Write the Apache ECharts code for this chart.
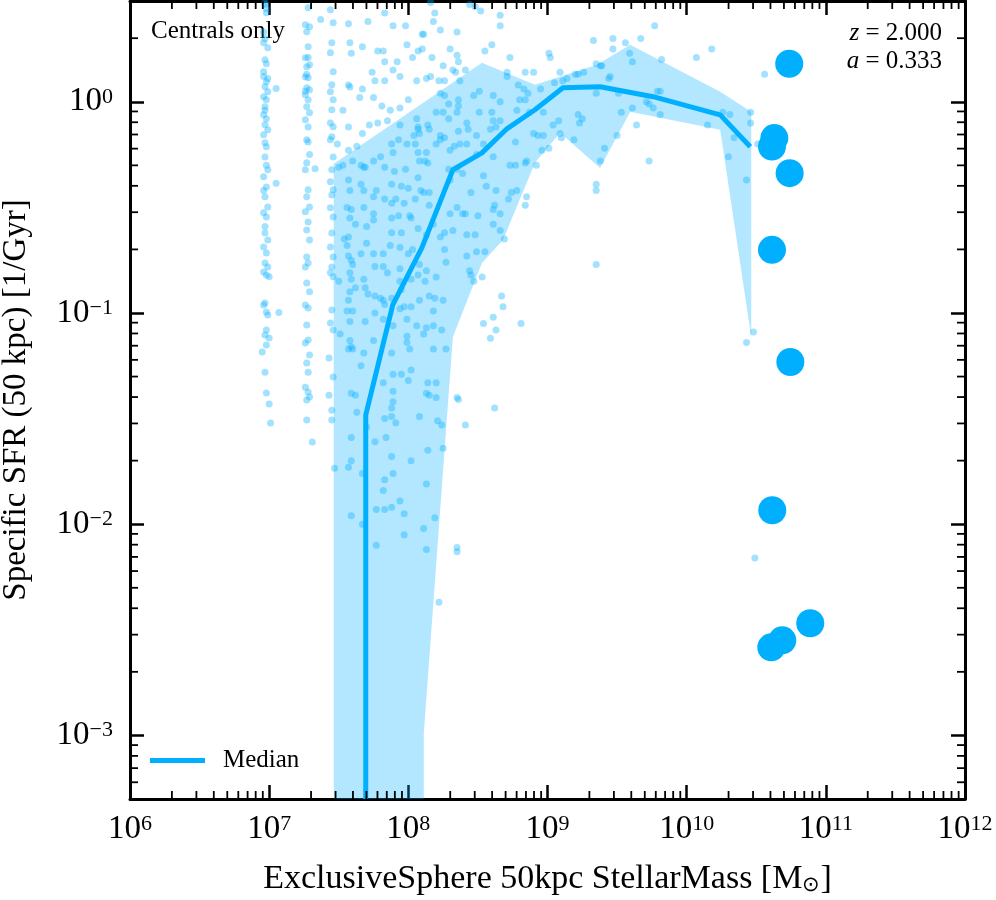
<!DOCTYPE html>
<html><head><meta charset="utf-8">
<script src="https://cdn.jsdelivr.net/npm/echarts@6/dist/echarts.min.js"></script>
<style>html,body{margin:0;padding:0;background:#fff}#c{width:996px;height:900px}</style>
</head><body><div id="c"></div><script>
// ---- values, stored as [log10(M*/Msun), log10(sSFR / Gyr^-1)] ----
const massRange = [1e6, 1e12];
const ssfrRange = [5e-4, 3.0];
const minorMultipliers = [2,3,4,5,6,7,8,9];

const columnA = [[6.97,0.469],[6.98,0.422],[6.96,0.280],[6.99,0.256],[6.97,0.199],[6.96,0.142],[6.98,0.095],[6.97,0.071],[6.99,0.047],[6.96,0.024],[6.98,0.009],[6.97,-0.024],[6.96,-0.062],[6.97,-0.109],[6.99,-0.133],[6.96,-0.156],[6.97,-0.194],[6.98,-0.213],[6.97,-0.261],[6.99,-0.322],[6.96,-0.355],[6.98,-0.403],[6.97,-0.450],[6.99,-0.498],[6.96,-0.526],[6.98,-0.545],[6.97,-0.621],[6.99,-0.654],[6.96,-0.687],[6.98,-0.716],[6.97,-0.763],[6.99,-0.782],[6.96,-0.806],[6.98,-0.820],[7.00,-0.829],[6.97,-0.953],[6.96,-0.962],[6.98,-0.995],[6.99,-1.009],[6.98,-1.081],[6.97,-1.104],[7.00,-1.118],[6.98,-1.152],[6.95,-1.185],[6.97,-1.280],[6.98,-1.379],[7.00,-1.431],[7.01,-1.521],[7.05,0.063],[7.05,-0.386],[7.07,-0.998],[6.96,0.33],[6.97,0.30],[6.98,0.18],[6.96,0.12],[6.99,0.11],[6.97,-0.04],[6.98,-0.08],[6.97,0.46],[6.98,0.44],[6.97,-0.59],[6.98,-0.30],[6.96,-0.42]];
const columnB = [[7.27,0.483],[7.28,0.445],[7.26,0.365],[7.29,0.355],[7.27,0.332],[7.28,0.261],[7.26,0.209],[7.29,0.175],[7.27,0.166],[7.26,0.118],[7.28,0.114],[7.27,0.066],[7.29,0.057],[7.26,0.033],[7.28,0.009],[7.27,-0.024],[7.29,-0.052],[7.26,-0.085],[7.27,-0.180],[7.28,-0.190],[7.27,-0.289],[7.26,-0.322],[7.28,-0.417],[7.27,-0.450],[7.29,-0.498],[7.26,-0.521],[7.28,-0.569],[7.27,-0.607],[7.29,-0.654],[7.27,-0.735],[7.26,-0.782],[7.28,-0.763],[7.27,-0.858],[7.29,-0.900],[7.26,-0.962],[7.28,-0.976],[7.27,-1.057],[7.28,-1.128],[7.26,-1.142],[7.29,-1.199],[7.27,-1.237],[7.28,-1.280],[7.26,-1.351],[7.28,-1.374],[7.29,-1.398],[7.27,-1.412],[7.27,-1.507],[7.31,-1.611],[7.37,0.389],[7.33,-0.317],[7.28,0.21],[7.27,0.13],[7.26,0.05],[7.28,-0.12],[7.29,-0.25]];
const columnC = [[7.45,0.483],[7.44,0.436],[7.46,0.374],[7.45,0.280],[7.44,0.232],[7.46,0.142],[7.45,0.081],[7.44,0.047],[7.46,0.009],[7.45,-0.038],[7.44,-0.100],[7.46,-0.118],[7.45,-0.166],[7.44,-0.180],[7.46,-0.261],[7.45,-0.322],[7.44,-0.379],[7.46,-0.417],[7.45,-0.441],[7.44,-0.502],[7.46,-0.545],[7.45,-0.621],[7.44,-0.687],[7.46,-0.735],[7.45,-0.782],[7.44,-0.810],[7.46,-0.829],[7.45,-0.986],[7.44,-1.047],[7.46,-1.081],[7.43,-1.213],[7.46,-1.303],[7.43,-1.389],[7.45,-1.460],[7.45,-1.507],[7.47,-1.735]];
const fieldTopLeft = [[7.57,0.37],[7.71,0.38],[7.83,0.42],[7.89,0.36],[7.98,0.36],[7.58,0.28],[7.59,0.23],[7.78,0.24],[7.82,0.24],[7.67,0.26],[7.99,0.27],[8.10,0.32],[8.07,0.24],[8.03,0.21],[7.83,0.19],[7.92,0.19],[7.74,0.14],[7.89,0.15],[7.94,0.12],[8.06,0.10],[7.76,0.10],[7.83,0.10],[7.67,0.06],[7.57,0.08],[7.58,0.07],[7.75,0.02],[7.81,-0.02],[7.87,-0.04],[7.94,-0.03],[8.00,0.01],[7.78,-0.10],[7.72,-0.11],[7.67,-0.15],[7.63,-0.21],[7.57,-0.23],[7.49,-0.20],[7.57,-0.12],[7.53,-0.04],[7.65,0.02],[7.85,-0.09],[7.94,-0.11],[8.06,-0.08],[8.07,-0.12]];
const fieldUpperBand = [[8.23,0.04],[8.26,0.03],[8.29,-0.01],[8.36,0.01],[8.36,-0.02],[8.47,0.03],[8.51,0.05],[8.61,0.03],[8.20,-0.05],[8.25,-0.05],[8.29,-0.08],[8.35,-0.05],[8.42,-0.10],[8.51,-0.05],[8.60,-0.05],[8.61,-0.09],[8.14,-0.11],[8.08,-0.15],[8.07,-0.13],[8.15,-0.13],[8.23,-0.16],[8.26,-0.17],[8.36,-0.14],[8.43,-0.13],[8.49,-0.16],[8.59,-0.13],[8.63,-0.12],
[7.75,-0.28],[7.80,-0.26],[7.88,-0.20],[7.93,-0.18],[7.89,-0.24],[7.99,-0.20],[8.04,-0.16],[8.05,-0.20],[8.07,-0.24],[8.13,-0.24],[8.12,-0.28],[8.14,-0.29],[8.08,-0.28],[7.98,-0.32],[7.90,-0.33],[7.83,-0.31],[7.68,-0.31],[7.66,-0.30],[7.69,-0.31],[7.60,-0.28],[7.53,-0.30],[7.50,-0.31],
[8.20,-0.20],[8.23,-0.18],[8.30,-0.23],[8.33,-0.21],[8.37,-0.20],[8.42,-0.20],[8.49,-0.25],[8.54,-0.20],[8.61,-0.26],[8.35,-0.32],[8.29,-0.32],
[7.57,-0.37],[7.58,-0.42],[7.66,-0.39],[7.68,-0.42],[7.77,-0.42],[7.75,-0.45],[7.88,-0.39],[7.95,-0.40],[8.00,-0.41],[8.07,-0.36],[8.09,-0.42],[8.15,-0.43],[8.30,-0.37],[8.39,-0.34],[8.45,-0.43],[8.54,-0.35],[8.56,-0.40],[8.63,-0.42],
[7.56,-0.50],[7.59,-0.51],[7.68,-0.50],[7.75,-0.53],[7.83,-0.46],[7.88,-0.48],[7.91,-0.46],[7.97,-0.48],[8.05,-0.46],[8.11,-0.43],[8.15,-0.49],[8.35,-0.50],[8.41,-0.53],[8.61,-0.51],[8.62,-0.49],
[7.58,-0.55],[7.62,-0.58],[7.70,-0.59],[7.75,-0.56],[7.88,-0.55],[7.93,-0.54],[8.01,-0.54],[8.02,-0.55],[8.18,-0.58],[8.30,-0.53],[8.39,-0.53],[8.50,-0.54],
[7.54,-0.65],[7.57,-0.64],[7.70,-0.67],[7.88,-0.62],[7.95,-0.62],[8.07,-0.60],[8.13,-0.63],[8.23,-0.64],[8.26,-0.62],[8.32,-0.61],[8.42,-0.63],[8.48,-0.63],[8.61,-0.58],
[7.56,-0.68],[7.66,-0.72],[7.75,-0.72],[7.82,-0.72],[7.87,-0.68],[7.94,-0.69],[8.00,-0.72],[8.03,-0.70],[8.26,-0.70],[8.42,-0.73],[8.49,-0.71],[8.55,-0.71]];
const fieldLowerBand = [[7.57,-0.73],[7.59,-0.75],[7.60,-0.77],[7.76,-0.78],[7.82,-0.78],[7.85,-0.81],[7.94,-0.79],[8.08,-0.77],[8.13,-0.80],[8.20,-0.83],[8.27,-0.76],[8.44,-0.80],[8.45,-0.82],[8.53,-0.83],
[7.50,-0.85],[7.58,-0.81],[7.59,-0.84],[7.62,-0.88],[7.68,-0.84],[7.69,-0.88],[7.58,-0.90],[7.71,-0.91],[7.76,-0.92],[7.80,-0.93],[7.82,-0.94],[7.83,-0.96],[7.94,-0.85],[7.95,-0.89],[8.02,-0.84],[8.07,-0.82],[8.12,-0.85],[8.47,-0.85],
[7.57,-0.94],[7.56,-0.99],[7.60,-0.99],[7.76,-1.00],[7.88,-0.93],[7.94,-0.98],[7.97,-0.97],[8.02,-0.97],[8.08,-0.94],[8.15,-0.92],[8.19,-0.93],[8.25,-0.94],[8.18,-0.99],[7.99,-1.03],
[7.58,-1.04],[7.69,-1.04],[7.82,-1.03],[7.89,-1.06],[7.51,-1.10],[7.58,-1.13],[7.75,-1.13],[7.99,-1.11],[8.06,-1.06],[8.13,-1.07],[8.18,-1.06],[8.24,-1.08],[8.11,-1.10],[7.99,-1.14],
[7.57,-1.17],[7.60,-1.17],[7.59,-1.16],[7.68,-1.19],[7.88,-1.19],[8.01,-1.17],[8.18,-1.17],[8.27,-1.17],[7.66,-1.25],
[7.89,-1.29],[7.95,-1.29],[8.02,-1.27],[8.00,-1.32],[7.82,-1.33],[8.14,-1.33],[8.20,-1.33],[7.59,-1.38],[7.62,-1.39],[7.89,-1.37],[8.13,-1.38],[8.15,-1.39],[8.20,-1.40],[7.89,-1.42],
[7.63,-1.47],[7.88,-1.45],[7.88,-1.49],[7.83,-1.50],[7.91,-1.52],[8.08,-1.49],[7.70,-1.54],[7.59,-1.59],[7.76,-1.61],[7.84,-1.59],[8.14,-1.65],[8.21,-1.51],[8.24,-1.53],[8.25,-1.64],
[8.54,-1.05],[8.61,-1.02],[8.63,-1.08],[8.59,-1.12],[8.35,-1.40],[8.36,-1.41],[8.62,-1.45],[8.41,-1.53],
[8.67,-0.92],[8.68,-0.97],[8.81,-1.05]];
const fieldLowTail = [[7.57,-1.73],[7.59,-1.70],[7.67,-1.76],[7.82,-1.84],[7.83,-1.79],[7.89,-1.76],[7.88,-1.68],[8.02,-1.70],[8.13,-1.81],[7.77,-1.93],[7.83,-1.93],[7.88,-1.92],[7.94,-1.89],[7.97,-1.95],[7.59,-1.96],[7.67,-2.00],[8.11,-2.02],[7.77,-2.10],[7.97,-2.05],[8.13,-2.12],[8.22,-2.37],[8.35,-2.11],[8.35,-2.13],[8.19,-1.97]];
const fieldTopMid = [[8.16,0.47],[8.19,0.42],[8.18,0.38],[8.11,0.32],[8.23,0.34],[8.35,0.33],[8.48,0.45],[8.52,0.43],[8.44,0.46],[8.66,0.41],[8.66,0.36],[8.60,0.27],[8.55,0.24],[8.30,0.25],[8.17,0.21],[8.10,0.25],[8.35,0.22],[8.36,0.19],[8.32,0.15],[8.34,0.14],[8.41,0.15],[8.25,0.17],[8.13,0.11],[8.16,0.12],[8.22,0.10],[8.26,0.10],[8.37,0.10],[8.73,0.21],[9.01,0.23],[9.02,0.21],[9.33,0.29],[9.47,0.30],[9.56,0.28],[9.47,0.25],[9.67,0.30],[9.77,0.36],[9.35,0.18],[9.39,0.17],[9.59,0.23],[9.61,0.19],[9.82,0.20],[10.07,0.21],[10.18,0.25],[8.71,0.14],[8.84,0.14],[8.90,0.14],[9.09,0.14],[9.20,0.13],[9.26,0.14]];
const fieldMassive = [[8.71,0.12],[8.79,0.08],[8.83,0.06],[8.86,0.04],[8.80,0.01],[8.84,0.01],[8.78,-0.04],[8.87,-0.05],[8.95,0.06],[9.05,0.09],[9.11,0.10],[9.14,0.11],[9.22,0.13],[9.38,0.17],[9.45,0.12],[9.44,0.11],[9.51,0.04],[9.35,0.04],[9.53,-0.05],[9.61,-0.03],[9.71,0.00],[9.73,-0.01],[9.76,-0.03],[9.79,0.05],[9.81,0.05],[9.81,-0.06],[9.64,-0.11],[9.50,-0.16],[9.41,-0.22],[9.38,-0.28],[9.25,-0.08],[9.22,-0.06],[9.23,-0.10],[9.09,-0.15],[9.08,-0.09],[9.04,-0.11],[9.10,-0.17],[9.19,-0.18],[8.97,-0.05],[8.90,-0.15],[8.93,-0.16],[8.97,-0.16],[8.96,-0.23],[9.01,-0.22],[8.92,-0.30],[8.77,-0.19],[8.73,-0.30],[8.77,-0.30],[8.84,-0.29],[8.85,-0.28],[8.66,-0.09],[8.66,0.00],[8.74,-0.43],[8.78,-0.42],[8.85,-0.45],[8.84,-0.49],[8.66,-0.53],[8.72,-0.46],[8.66,-0.61],[8.69,-0.65],
[9.35,-0.39],[9.35,-0.42],[9.73,-0.28],[9.35,-0.77],
[10.56,0.13],[10.26,-0.05],[10.31,-0.06],[10.46,-0.05],[10.15,-0.11],[10.46,-0.10],[10.34,-0.17],[10.30,-0.26],[10.43,-0.37],[10.51,-0.20],[10.43,-1.14],[10.48,-1.09],[10.49,-2.16]];
const bigGalaxies = [[10.737,0.180],[10.630,-0.172],[10.613,-0.212],[10.740,-0.338],[10.613,-0.701],[10.745,-1.232],[10.615,-1.934],[10.888,-2.469],[10.687,-2.550],[10.608,-2.583]];

// median line (first point sits at the axis floor: median = 0 there)
const FLOOR = Math.log10(ssfrRange[0]);
const medianLogM = [7.694, 7.694, 7.888, 8.097, 8.320, 8.529, 8.708, 8.910, 9.111, 9.378, 9.759, 10.241, 10.457];
const medianLogS = [FLOOR, -1.483, -0.962, -0.692, -0.322, -0.242, -0.128, -0.038, 0.066, 0.071, 0.024, -0.062, -0.213];
// 16-84 percentile band outline
const bandUpperLogM = [7.464, 7.464, 8.529, 8.910, 9.356, 9.594, 10.241, 10.464];
const bandUpperLogS = [FLOOR, -0.294, 0.185, 0.081, 0.175, 0.270, 0.047, -0.047];
const bandLowerLogM = [10.464, 10.241, 9.594, 9.378, 9.090, 8.910, 8.680, 8.529, 8.320, 8.111, 8.111];
const bandLowerLogS = [-1.114, -0.133, -0.047, -0.313, -0.147, -0.289, -0.654, -0.763, -1.114, -2.991, FLOOR];

// ---- build ----
const FONT = "'Liberation Serif','Times New Roman',serif";
const BLUE = '#00b0ff';
const toVal = p => [Math.pow(10, p[0]), Math.pow(10, p[1])];
const smallPts = [].concat(columnA, columnB, columnC, fieldTopLeft, fieldUpperBand, fieldLowerBand, fieldLowTail, fieldTopMid, fieldMassive).map(toVal);
const bigPts = bigGalaxies.map(toVal);
const medianPts = medianLogM.map((m, i) => [Math.pow(10, m), Math.pow(10, medianLogS[i])]);

const xMinor = [], yMinor = [];
for (let d = 6; d < 12; d++) minorMultipliers.forEach(k => xMinor.push([k * Math.pow(10, d), ssfrRange[0]]));
for (let d = -4; d <= 0; d++) minorMultipliers.forEach(k => { const v = k * Math.pow(10, d); if (v > ssfrRange[0] * 1.0001 && v < ssfrRange[1] * 0.9999) yMinor.push([massRange[0], v]); });

function powLabel(v) {
  const e = Math.log10(v);
  if (Math.abs(e - Math.round(e)) > 1e-6) return '';
  const n = Math.round(e);
  return '{n|10}{s|' + (n < 0 ? '\u2212' + (-n) : n) + '}';
}
const labelRich = {
  n: { fontFamily: FONT, fontSize: 33, lineHeight: 32, color: '#000' },
  s: { fontFamily: FONT, fontSize: 22, lineHeight: 17, verticalAlign: 'top', color: '#000' }
};
const frame = { show: true, onZero: false, lineStyle: { color: '#000', width: 3 } };
const majorTick = { show: true, inside: true, length: 14, lineStyle: { color: '#000', width: 2.5 } };

const chart = echarts.init(document.getElementById('c'), null, { renderer: 'canvas' });
chart.setOption({
  animation: false,
  backgroundColor: '#fff',
  grid: { left: 130, right: 31, top: 1, bottom: 101, containLabel: false, outerBoundsMode: 'none' },
  xAxis: [
    { type: 'log', logBase: 10, min: massRange[0], max: massRange[1], position: 'bottom',
      axisLine: frame, axisTick: majorTick, splitLine: { show: false }, minorTick: { show: false },
      axisLabel: { formatter: powLabel, rich: labelRich, margin: 14, showMinLabel: true, showMaxLabel: true },
      name: '{t|ExclusiveSphere 50kpc StellarMass [M}{sub|\u2299}{t|]}', nameLocation: 'middle', nameGap: 63,
      nameTextStyle: { rich: { t: { fontFamily: FONT, fontSize: 34, lineHeight: 34, color: '#000' },
                               sub: { fontFamily: FONT, fontSize: 21, lineHeight: 14, verticalAlign: 'bottom', color: '#000' } } } },
    { type: 'log', logBase: 10, min: massRange[0], max: massRange[1], position: 'top',
      axisLine: frame, axisTick: majorTick, splitLine: { show: false }, axisLabel: { show: false } }
  ],
  yAxis: [
    { type: 'log', logBase: 10, min: ssfrRange[0], max: ssfrRange[1], position: 'left',
      axisLine: frame, axisTick: majorTick, splitLine: { show: false }, minorTick: { show: false },
      axisLabel: { formatter: powLabel, rich: labelRich, margin: 17 },
      name: 'Specific SFR (50 kpc) [1/Gyr]', nameLocation: 'middle', nameGap: 97, nameRotate: 90,
      nameTextStyle: { fontFamily: FONT, fontSize: 33, color: '#000' } },
    { type: 'log', logBase: 10, min: ssfrRange[0], max: ssfrRange[1], position: 'right',
      axisLine: frame, axisTick: majorTick, splitLine: { show: false }, axisLabel: { show: false } }
  ],
  legend: {
    data: [{ name: 'Median', icon: 'rect' }], left: 150, top: 748, padding: 0, itemWidth: 55, itemHeight: 5,
    textStyle: { fontFamily: FONT, fontSize: 25, color: '#000', padding: [0, 0, 0, 13] }
  },
  graphic: [
    { type: 'text', x: 151, y: 31, style: { text: 'Centrals only', fontFamily: FONT, fontSize: 25, fill: '#000', verticalAlign: 'middle' } },
    { type: 'text', x: 942, y: 33, style: { text: '{i|z}{r| = 2.000}', align: 'right', verticalAlign: 'middle',
        rich: { i: { fontFamily: FONT, fontSize: 25, fontStyle: 'italic', fill: '#000' }, r: { fontFamily: FONT, fontSize: 25, fill: '#000' } } } },
    { type: 'text', x: 942, y: 61, style: { text: '{i|a}{r| = 0.333}', align: 'right', verticalAlign: 'middle',
        rich: { i: { fontFamily: FONT, fontSize: 25, fontStyle: 'italic', fill: '#000' }, r: { fontFamily: FONT, fontSize: 25, fill: '#000' } } } }
  ],
  series: [
    { name: 'band', type: 'custom', coordinateSystem: 'cartesian2d', clip: true, silent: true, z: 1,
      data: [[massRange[0], ssfrRange[0]]],
      renderItem: (params, api) => {
        const pts = [];
        bandUpperLogM.forEach((m, i) => pts.push(api.coord([Math.pow(10, m), Math.pow(10, bandUpperLogS[i])])));
        bandLowerLogM.forEach((m, i) => pts.push(api.coord([Math.pow(10, m), Math.pow(10, bandLowerLogS[i])])));
        return { type: 'polygon', shape: { points: pts }, style: { fill: 'rgba(0,176,255,0.3)', stroke: null } };
      } },
    { name: 'galaxies', type: 'scatter', data: smallPts, symbolSize: 7, z: 2, silent: true,
      itemStyle: { color: 'rgba(0,176,255,0.45)', borderWidth: 0 } },
    { name: 'Median', type: 'line', data: medianPts, symbol: 'none', z: 3, silent: true, clip: true,
      lineStyle: { color: BLUE, width: 5 }, itemStyle: { color: BLUE } },
    { name: 'big', type: 'scatter', data: bigPts, symbolSize: 28, z: 4, silent: true,
      itemStyle: { color: BLUE, opacity: 1, borderWidth: 0 } },
    { name: 'xminor', type: 'custom', coordinateSystem: 'cartesian2d', silent: true, z: 5, data: xMinor,
      renderItem: (params, api) => {
        const p = api.coord([api.value(0), api.value(1)]); const cs = params.coordSys;
        const st = { stroke: '#000', lineWidth: 1.8 };
        return { type: 'group', children: [
          { type: 'line', shape: { x1: p[0], y1: cs.y + cs.height, x2: p[0], y2: cs.y + cs.height - 8 }, style: st },
          { type: 'line', shape: { x1: p[0], y1: cs.y, x2: p[0], y2: cs.y + 8 }, style: st } ] };
      } },
    { name: 'yminor', type: 'custom', coordinateSystem: 'cartesian2d', silent: true, z: 5, data: yMinor,
      renderItem: (params, api) => {
        const p = api.coord([api.value(0), api.value(1)]); const cs = params.coordSys;
        const st = { stroke: '#000', lineWidth: 1.8 };
        return { type: 'group', children: [
          { type: 'line', shape: { x1: cs.x, y1: p[1], x2: cs.x + 8, y2: p[1] }, style: st },
          { type: 'line', shape: { x1: cs.x + cs.width, y1: p[1], x2: cs.x + cs.width - 8, y2: p[1] }, style: st } ] };
      } }
  ]
});
</script></body></html>
